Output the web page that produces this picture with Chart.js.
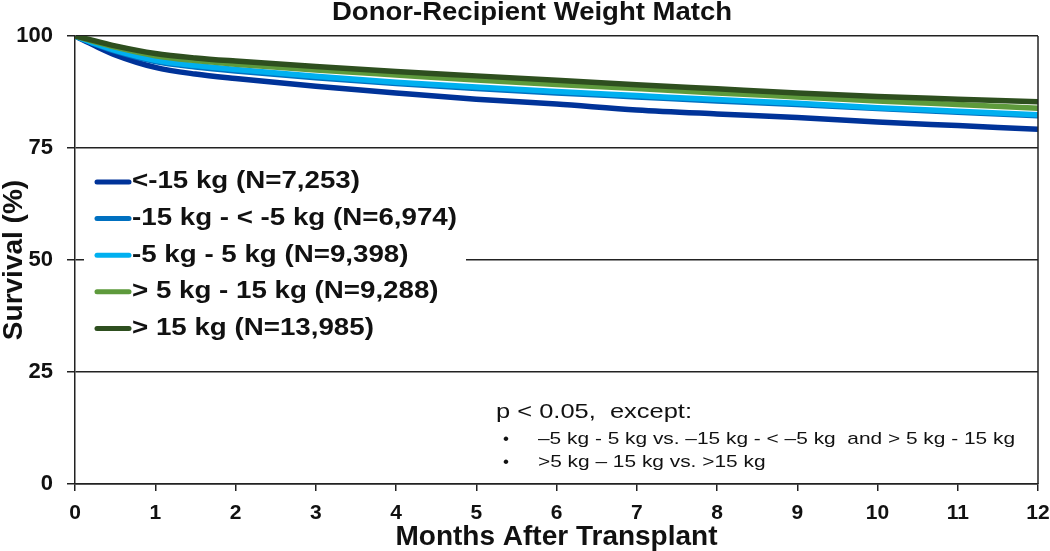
<!DOCTYPE html>
<html><head><meta charset="utf-8">
<script src="https://cdn.jsdelivr.net/npm/chart.js@4/dist/chart.umd.min.js"></script>
<style>html,body{margin:0;padding:0;background:#fff}</style>
</head><body>
<canvas id="c" width="1050" height="551"></canvas>
<script>
const chartTitle = 'Donor-Recipient Weight Match';
const xAxisTitle = 'Months After Transplant';
const yAxisTitle = 'Survival (%)';
const months = [0, 0.25, 0.5, 1, 1.5, 2, 3, 4, 5, 6, 7, 8, 9, 10, 11, 12];
const seriesLabels = [
  '<-15 kg (N=7,253)',
  '-15 kg - < -5 kg (N=6,974)',
  '-5 kg - 5 kg (N=9,398)',
  '> 5 kg - 15 kg (N=9,288)',
  '> 15 kg (N=13,985)'
];
const survUnderMinus15 = [100, 97.8, 95.8, 93.0, 91.5, 90.5, 88.8, 87.3, 85.9, 84.8, 83.5, 82.6, 81.8, 80.8, 80.0, 79.2];
const survMinus15toMinus5 = [100, 98.2, 96.6, 94.3, 93.1, 92.2, 90.7, 89.4, 88.3, 87.3, 86.4, 85.5, 84.7, 83.8, 83.0, 82.2];
const survMinus5to5 = [100, 98.3, 96.8, 94.6, 93.4, 92.5, 91.0, 89.7, 88.6, 87.6, 86.7, 85.8, 85.0, 84.0, 83.2, 82.4];
const surv5to15 = [100, 98.7, 97.5, 95.6, 94.5, 93.7, 92.4, 91.3, 90.2, 89.2, 88.3, 87.3, 86.4, 85.5, 84.7, 83.9];
const survOver15 = [100, 98.9, 97.8, 96.1, 95.1, 94.4, 93.2, 92.1, 91.1, 90.1, 89.1, 88.2, 87.3, 86.5, 85.9, 85.3];
const seriesColors = ['#003399', '#0070C0', '#00B0F0', '#5E9A3C', '#2E4F1F'];
const xTickValues = [0,1,2,3,4,5,6,7,8,9,10,11,12];
const yTickValues = [0, 25, 50, 75, 100];
const noteHeading = 'p < 0.05,  except:';
const noteBullets = [
  '\u20135 kg - 5 kg vs. \u201315 kg - < \u20135 kg  and > 5 kg - 15 kg',
  '>5 kg \u2013 15 kg vs. >15 kg'
];

const allSeries = [survUnderMinus15, survMinus15toMinus5, survMinus5to5, surv5to15, survOver15];
const FONT = '"Liberation Sans", Arial, sans-serif';

function fitText(ctx, text, x, y, font, width, align) {
  ctx.save();
  ctx.font = font;
  ctx.textBaseline = 'middle';
  ctx.textAlign = 'left';
  const w = ctx.measureText(text).width;
  const sx = width ? width / w : 1;
  let x0 = x;
  if (align === 'center') x0 = x - (w * sx) / 2;
  ctx.translate(x0, y);
  ctx.scale(sx, 1);
  ctx.fillStyle = '#111';
  ctx.fillText(text, 0, 0);
  ctx.restore();
}

const deco = {
  id: 'deco',
  beforeDatasetsDraw(chart) {
    const ctx = chart.ctx;
    ctx.save();
    ctx.fillStyle = '#fff';
    ctx.fillRect(84, 163, 382, 185);
    ctx.restore();
  },
  afterDraw(chart) {
    const ctx = chart.ctx, a = chart.chartArea;
    ctx.save();
    ctx.strokeStyle = '#222';
    ctx.lineWidth = 1.5;
    ctx.beginPath();
    ctx.moveTo(a.right, a.top);
    ctx.lineTo(a.right, a.bottom);
    ctx.stroke();
    ctx.restore();

    fitText(ctx, chartTitle, 532, 13, 'bold 25px ' + FONT, 400, 'center');

    // legend
    ctx.save();
    ctx.font = 'bold 23px ' + FONT;
    const sx = 228 / ctx.measureText(seriesLabels[0]).width;
    ctx.restore();
    chart.data.datasets.forEach((ds, i) => {
      const y = 182 + i * 36.6;
      ctx.save();
      ctx.strokeStyle = ds.borderColor;
      ctx.lineWidth = 5;
      ctx.lineCap = 'round';
      ctx.beginPath();
      ctx.moveTo(97, y);
      ctx.lineTo(129, y);
      ctx.stroke();
      ctx.restore();
      ctx.save();
      ctx.font = 'bold 23px ' + FONT;
      ctx.textBaseline = 'middle';
      ctx.fillStyle = '#111';
      ctx.translate(132, y);
      ctx.scale(sx, 1);
      ctx.fillText(ds.label, 0, 0);
      ctx.restore();
    });

    // note
    fitText(ctx, noteHeading, 496, 412, '21px ' + FONT, 196, 'left');
    ctx.save();
    ctx.font = '17px ' + FONT;
    const sb = 477 / ctx.measureText(noteBullets[0]).width;
    ctx.restore();
    noteBullets.forEach((t, i) => {
      const y = 439 + i * 23;
      ctx.save();
      ctx.font = '17px ' + FONT;
      ctx.textBaseline = 'middle';
      ctx.fillStyle = '#111';
      ctx.fillText('\u2022', 503, y);
      ctx.translate(538, y);
      ctx.scale(sb, 1);
      ctx.fillText(t, 0, 0);
      ctx.restore();
    });
  }
};

new Chart(document.getElementById('c'), {
  type: 'line',
  data: {
    datasets: allSeries.map((s, i) => ({
      label: seriesLabels[i],
      data: s.map((v, j) => ({ x: months[j], y: v })),
      borderColor: seriesColors[i],
      backgroundColor: seriesColors[i],
      borderWidth: 5.5,
      pointRadius: 0,
      cubicInterpolationMode: 'monotone',
      fill: false,
      order: [4, 3, 2, 1, 0][i]
    }))
  },
  options: {
    responsive: false,
    animation: false,
    devicePixelRatio: 1,
    layout: { padding: { top: 36, right: 12, left: 0, bottom: 0 } },
    plugins: { legend: { display: false }, title: { display: false }, tooltip: { enabled: false } },
    scales: {
      x: {
        type: 'linear', min: 0, max: 12,
        afterFit(s) { s.height = 67; s.paddingRight = 0; s.paddingLeft = 0; },
        afterBuildTicks(s) { s.ticks = xTickValues.map(v => ({ value: v })); },
        grid: { drawOnChartArea: false, drawTicks: true, tickLength: 7, color: '#222', lineWidth: 1.5 },
        border: { display: true, color: '#222', width: 1.5 },
        ticks: { font: { family: FONT, size: 21, weight: 'bold' }, color: '#111', padding: 10, maxRotation: 0, autoSkip: false },
        title: { display: true, text: xAxisTitle, font: { family: FONT, size: 28, weight: 'bold', lineHeight: 1.0 }, color: '#111', padding: 0 }
      },
      y: {
        min: 0, max: 100,
        afterFit(s) { s.width = 75; },
        afterBuildTicks(s) { s.ticks = yTickValues.map(v => ({ value: v })); },
        grid: { drawOnChartArea: true, drawTicks: true, tickLength: 8, color: '#222', lineWidth: 1.5 },
        border: { display: true, color: '#222', width: 1.5 },
        ticks: { font: { family: FONT, size: 22, weight: 'bold' }, color: '#111', padding: 14 },
        title: { display: true, text: yAxisTitle, font: { family: FONT, size: 28, weight: 'bold', lineHeight: 1.0 }, color: '#111', padding: 0 }
      }
    }
  },
  plugins: [deco]
});
</script>
</body></html>
